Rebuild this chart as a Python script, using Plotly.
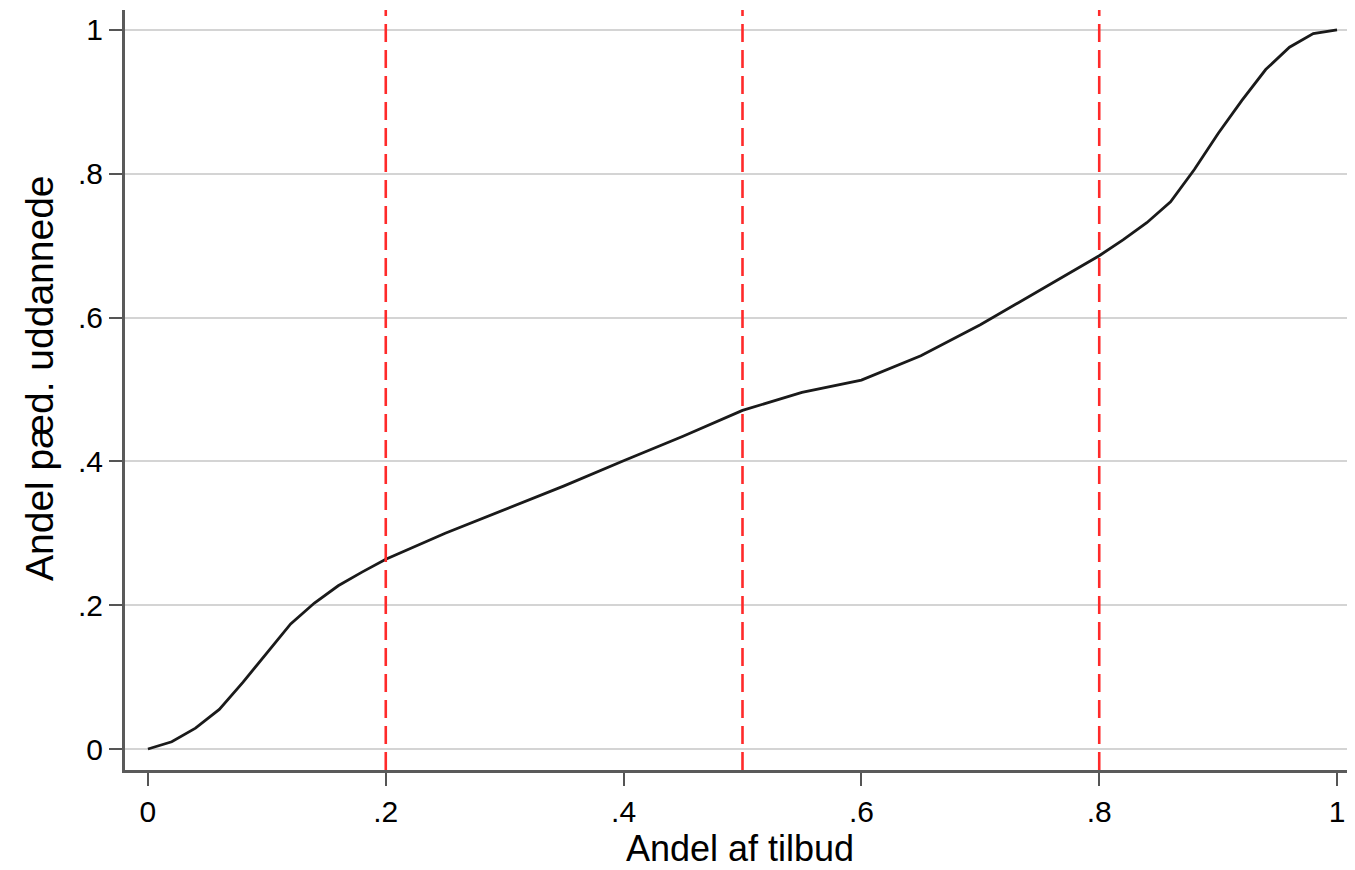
import plotly.graph_objects as go

# Data
share_offers = [0.00, 0.02, 0.04, 0.06, 0.08, 0.10, 0.12, 0.14, 0.16, 0.18, 0.20,
                0.25, 0.30, 0.35, 0.40, 0.45, 0.50, 0.55, 0.60, 0.65, 0.70, 0.75,
                0.80, 0.82, 0.84, 0.86, 0.88, 0.90, 0.92, 0.94, 0.96, 0.98, 1.00]
share_educated = [0.000, 0.010, 0.029, 0.055, 0.093, 0.134, 0.174, 0.203, 0.227, 0.246, 0.264,
                  0.300, 0.333, 0.366, 0.401, 0.435, 0.471, 0.496, 0.513, 0.547, 0.590, 0.638,
                  0.686, 0.708, 0.732, 0.761, 0.806, 0.856, 0.902, 0.945, 0.976, 0.995, 1.000]
cutoffs = [0.2, 0.5, 0.8]

tick_vals = [0, 0.2, 0.4, 0.6, 0.8, 1]
tick_text = ["0", ".2", ".4", ".6", ".8", "1"]

x_title = "Andel af tilbud"
y_title = "Andel pæd. uddannede"

fig = go.Figure()
fig.add_trace(go.Scatter(x=share_offers, y=share_educated, mode="lines",
                         line=dict(color="#1a1a1a", width=2.8), showlegend=False,
                         hoverinfo="skip"))

for c in cutoffs:
    fig.add_shape(type="line", xref="x", yref="paper", x0=c, x1=c, y0=0, y1=1,
                  line=dict(color="#ff2a2a", width=2.6, dash="18px,8px"), layer="above")

font_family = "Liberation Sans, Arial, sans-serif"

fig.update_layout(
    width=1347, height=862,
    margin=dict(l=117, r=0, t=2, b=100),
    paper_bgcolor="white", plot_bgcolor="white",
    font=dict(family=font_family, color="#000000"),
    showlegend=False,
)

fig.add_annotation(text=y_title, xref="paper", yref="y", x=0, y=0.516,
                   xanchor="center", yanchor="middle", xshift=-85, textangle=-90,
                   showarrow=False, font=dict(size=39, family=font_family, color="#000000"))

fig.update_xaxes(
    range=[-0.0193, 1.0151],
    tickvals=tick_vals, ticktext=tick_text,
    tickfont=dict(size=30, family=font_family, color="#000000"),
    ticks="outside", ticklen=13, tickwidth=2, tickcolor="#555555",
    showline=True, linecolor="#5a5a5a", linewidth=3,
    showgrid=False, zeroline=False,
    title=dict(text=x_title, font=dict(size=36, family=font_family, color="#000000"), standoff=9),
)
fig.update_yaxes(
    range=[-0.0292, 1.0278],
    tickvals=tick_vals, ticktext=tick_text,
    tickfont=dict(size=30, family=font_family, color="#000000"),
    ticks="outside", ticklen=13, tickwidth=2, tickcolor="#555555",
    showline=True, linecolor="#5a5a5a", linewidth=3,
    showgrid=True, gridcolor="#d4d4d4", gridwidth=1.5, zeroline=False,
)

fig.write_html("out.html")
